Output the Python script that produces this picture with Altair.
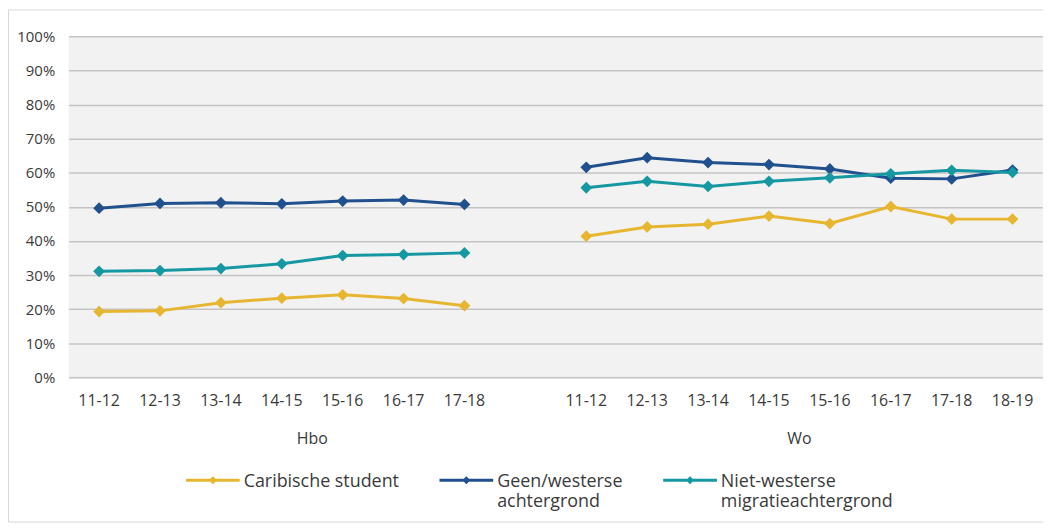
import altair as alt
import pandas as pd

# ---- data ----
hbo_years = ["11-12", "12-13", "13-14", "14-15", "15-16", "16-17", "17-18"]
wo_years = ["11-12", "12-13", "13-14", "14-15", "15-16", "16-17", "17-18", "18-19"]
niveaus = ["Hbo", "Wo"]
series = ["Caribische student", "Geen/westerse achtergrond", "Niet-westerse migratieachtergrond"]
colors = ["#E7B631", "#21508E", "#1698A2"]

hbo_caribisch = [19.3, 19.5, 21.9, 23.2, 24.2, 23.1, 21.0]
hbo_geen = [49.6, 51.0, 51.2, 50.9, 51.7, 52.0, 50.7]
hbo_niet = [31.1, 31.3, 31.9, 33.3, 35.7, 36.0, 36.5]
wo_caribisch = [41.4, 44.1, 44.9, 47.3, 45.1, 50.1, 46.4, 46.4]
wo_geen = [61.6, 64.4, 63.0, 62.4, 61.1, 58.4, 58.2, 60.8]
wo_niet = [55.6, 57.5, 56.0, 57.5, 58.5, 59.7, 60.7, 60.1]
y_ticks = [0, 10, 20, 30, 40, 50, 60, 70, 80, 90, 100]

# ---- build table ----
rows = []
for niveau, years, vals in [
    ("Hbo", hbo_years, [hbo_caribisch, hbo_geen, hbo_niet]),
    ("Wo", wo_years, [wo_caribisch, wo_geen, wo_niet]),
]:
    for s, v in zip(series, vals):
        for yr, val in zip(years, v):
            rows.append({"niveau": niveau, "slot": f"{niveau}|{yr}", "series": s, "value": val})
df = pd.DataFrame(rows)

hbo_slots = [f"Hbo|{y}" for y in hbo_years] + ["Hbo| "]
wo_slots = [f"Wo|{y}" for y in wo_years]
domain = hbo_slots + wo_slots

groups = pd.DataFrame({"niveau": niveaus, "slot": [hbo_slots[3], wo_slots[3]]})

FONT = "Open Sans"
TXT = "#3a3a3a"

xscale = alt.Scale(type="band", domain=domain, paddingInner=0, paddingOuter=0)
yscale = alt.Scale(domain=[0, 100], nice=False)

x_enc = alt.X(
    "slot:N",
    scale=xscale,
    sort=domain,
    axis=alt.Axis(
        title=None, domain=False, ticks=False, labelAngle=0, labelPadding=15,
        labelExpr="split(datum.label, '|')[1]", labelFont=FONT, labelFontSize=16,
        labelColor=TXT, labelOverlap=False, grid=False,
    ),
)
y_enc = alt.Y(
    "value:Q",
    scale=yscale,
    axis=alt.Axis(
        title=None, domain=False, ticks=False, values=y_ticks,
        labelExpr="datum.value + '%'", labelFont=FONT, labelFontSize=15,
        labelColor=TXT, labelPadding=14, grid=True, gridColor="#c4c4c4", gridWidth=1.5,
    ),
)

legend_path = (
    "M-1,-0.296 L1,-0.296 L1,-0.184 L-1,-0.184 Z "
    "M0,-0.39 L0.15,-0.24 L0,-0.09 L-0.15,-0.24 Z"
)

border = alt.Chart(pd.DataFrame({"k": [0]})).mark_rect(
    fill=None, stroke="#d9d9d9", strokeWidth=1
).encode(
    x=alt.value(-60.5), x2=alt.value(1000), y=alt.value(-26.5), y2=alt.value(488.5)
)

lines = alt.Chart(df).mark_line(strokeWidth=3).encode(
    x=x_enc,
    y=y_enc,
    stroke=alt.Stroke("series:N", scale=alt.Scale(range=colors), legend=None),
    detail="niveau:N",
)

points = alt.Chart(df).mark_point(shape="diamond", filled=True, size=140, opacity=1).encode(
    x=x_enc,
    y=y_enc,
    fill=alt.Fill(
        "series:N",
        scale=alt.Scale(domain=series, range=colors),
        legend=alt.Legend(
            title=None, orient="none", legendX=118, legendY=426, direction="horizontal",
            symbolType=legend_path, symbolSize=2916, symbolStrokeWidth=0, symbolOpacity=1,
            labelFont=FONT, labelFontSize=18, labelColor=TXT, labelBaseline="alphabetic",
            labelExpr="datum.label == 'Caribische student' ? [datum.label, ''] : split(datum.label, ' ')",
            columnPadding=40, labelOffset=4, labelLimit=400,
        ),
    ),
)

group_text = alt.Chart(groups).mark_text(
    font=FONT, fontSize=16, color=TXT, baseline="middle", align="center"
).encode(
    x=alt.X("slot:N", bandPosition=1, scale=xscale, sort=domain),
    y=alt.value(405),
    text="niveau:N",
)

chart = alt.layer(border, lines, points, group_text).properties(
    width=980,
    height=343,
    padding={"left": 61, "top": 27, "right": 0, "bottom": 146},
    autosize=alt.AutoSizeParams(type="none"),
    background="white",
).configure_view(fill="#f2f2f2", stroke=None)

chart.save("out.html", embed_options={"renderer": "svg", "actions": False})
